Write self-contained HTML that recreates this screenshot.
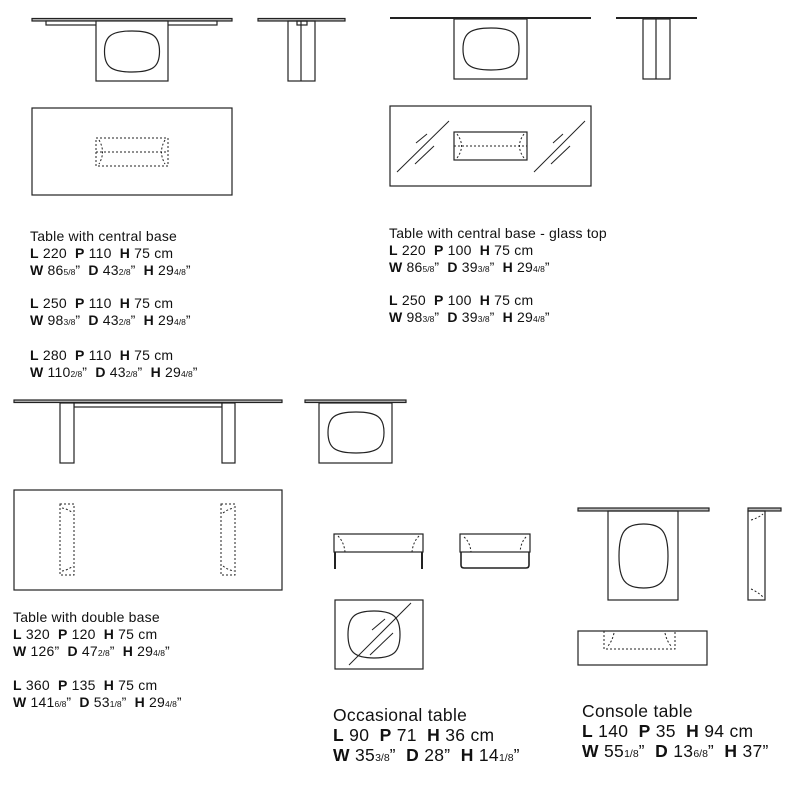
<!DOCTYPE html>
<html><head><meta charset="utf-8"><style>
html,body{margin:0;padding:0;background:#fff}
svg{display:block}
text{font-family:"Liberation Sans",sans-serif;fill:#111;white-space:pre}
.t{font-size:14px;letter-spacing:0.2px}
.b{font-weight:bold}
.f{font-size:8.5px;letter-spacing:0}
.L{font-size:17.5px;letter-spacing:0.3px}
.fl{font-size:10.5px;letter-spacing:0}
</style></head><body>
<svg width="800" height="800" viewBox="0 0 800 800" fill="none" stroke="#222" stroke-width="1.2" xml:space="preserve">
<!-- Top-left elevation -->
<rect x="32" y="18.5" width="200" height="2.5" fill="#bbb"/>
<rect x="46" y="21" width="171" height="4" fill="#fff"/>
<rect x="96" y="21" width="72" height="60" fill="#fff"/>
<path d="M104.5 51.5 C104.5 36.1 111.4 31 132 31 C152.6 31 159.5 36.1 159.5 51.5 C159.5 66.9 152.6 72 132 72 C111.4 72 104.5 66.9 104.5 51.5Z"/>
<rect x="258" y="18.5" width="87" height="2.5" fill="#bbb"/>
<rect x="288" y="21" width="27" height="60"/>
<line x1="301" y1="21" x2="301" y2="81"/>
<rect x="297" y="21" width="10" height="4"/>
<!-- Top-left plan -->
<rect x="32" y="108" width="200" height="87"/>
<g stroke-dasharray="2 2" stroke-width="1">
<rect x="96" y="138" width="72" height="28"/>
<line x1="96" y1="152" x2="168" y2="152"/>
<path d="M99 140 Q106 152 99 164 M165 140 Q158 152 165 164"/>
</g>
<!-- Top-right elevation -->
<line x1="390" y1="18" x2="591" y2="18" stroke-width="2"/>
<rect x="454" y="19" width="73" height="60"/>
<path d="M463 49 C463 33.25 470 28 491 28 C512 28 519 33.25 519 49 C519 64.75 512 70 491 70 C470 70 463 64.75 463 49Z"/>
<line x1="616" y1="18" x2="697" y2="18" stroke-width="2"/>
<rect x="643" y="19" width="27" height="60"/>
<line x1="656" y1="19" x2="656" y2="79"/>
<!-- Top-right plan -->
<rect x="390" y="106" width="201" height="80"/>
<rect x="454" y="132" width="73" height="28"/>
<g stroke-dasharray="2 2" stroke-width="1">
<line x1="454" y1="146" x2="527" y2="146"/>
<path d="M457 134 Q466 146 457 158 M524 134 Q515 146 524 158"/>
</g>
<g stroke-width="1">
<line x1="397" y1="172" x2="449" y2="121"/><line x1="416" y1="143" x2="427" y2="134"/><line x1="415" y1="164" x2="434" y2="146"/>
<line x1="534" y1="172" x2="585" y2="121"/><line x1="553" y1="143" x2="563" y2="134"/><line x1="551" y1="164" x2="570" y2="146"/>
</g>
<!-- Double base elevation -->
<rect x="14" y="400" width="268" height="2.5" fill="#bbb"/>
<rect x="74" y="403" width="148" height="4"/>
<rect x="60" y="403" width="14" height="60" fill="#fff"/>
<rect x="222" y="403" width="13" height="60" fill="#fff"/>
<rect x="305" y="400" width="101" height="2.5" fill="#bbb"/>
<rect x="319" y="403" width="73" height="60"/>
<path d="M328 432.5 C328 417.1 335 412 356 412 C377 412 384 417.1 384 432.5 C384 447.9 377 453 356 453 C335 453 328 447.9 328 432.5Z"/>
<!-- Double base plan -->
<rect x="14" y="490" width="268" height="100"/>
<g stroke-dasharray="2 2" stroke-width="1">
<rect x="60" y="504" width="14" height="71"/>
<path d="M62 508 Q68 509 73 513 M62 571 Q68 570 73 566"/>
<rect x="221" y="504" width="14" height="71"/>
<path d="M223 513 Q228 509 234 508 M223 566 Q228 570 234 571"/>
</g>
<!-- Occasional front -->
<rect x="334" y="534" width="89" height="18"/>
<line x1="335" y1="552" x2="335" y2="569" stroke-width="2"/>
<line x1="422" y1="552" x2="422" y2="569" stroke-width="2"/>
<g stroke-dasharray="2 2" stroke-width="1"><path d="M338 536 Q344 542 345 552 M419 536 Q413 542 412 552"/></g>
<rect x="460" y="534" width="70" height="18"/>
<path d="M461 552 L461 565 Q461 568 464 568 L526 568 Q529 568 529 565 L529 552" stroke-width="1.6"/>
<g stroke-dasharray="2 2" stroke-width="1"><path d="M464 537 Q470 542 471 552 M526 537 Q521 542 520 552"/></g>
<!-- Occasional plan -->
<rect x="335" y="600" width="88" height="69"/>
<path d="M348 634.5 C348 616.9 354.5 611 374 611 C393.5 611 400 616.9 400 634.5 C400 652.1 393.5 658 374 658 C354.5 658 348 652.1 348 634.5Z"/>
<g stroke-width="1">
<line x1="349" y1="665" x2="411" y2="603"/><line x1="372" y1="630" x2="385" y2="619"/><line x1="370" y1="655" x2="393" y2="633"/>
</g>
<!-- Console -->
<rect x="578" y="508" width="131" height="3" fill="#bbb"/>
<rect x="608" y="511" width="70" height="89"/>
<path d="M619 556 C619 532 625.1 524 643.5 524 C661.9 524 668 532 668 556 C668 580 661.9 588 643.5 588 C625.1 588 619 580 619 556Z"/>
<rect x="748" y="508" width="33" height="3" fill="#bbb"/>
<rect x="748" y="511" width="17" height="89"/>
<g stroke-dasharray="2 2" stroke-width="1"><path d="M751 520 Q758 518 763 514 M751 589 Q758 592 763 597"/></g>
<rect x="578" y="631" width="129" height="34"/>
<g stroke-dasharray="2 2" stroke-width="1">
<path d="M604 631 L604 649 L675 649 L675 631"/>
<path d="M614 633 Q612 642 607 647 M665 633 Q667 642 672 647"/>
</g>
<g stroke="none">
<text class="t" x="30" y="241">Table with central base</text>
<text class="t" x="30" y="258"><tspan class="b">L</tspan> 220  <tspan class="b">P</tspan> 110  <tspan class="b">H</tspan> 75 cm</text>
<text class="t" x="30" y="275"><tspan class="b">W</tspan> 86<tspan class="f">5/8</tspan>”  <tspan class="b">D</tspan> 43<tspan class="f">2/8</tspan>”  <tspan class="b">H</tspan> 29<tspan class="f">4/8</tspan>”</text>
<text class="t" x="30" y="308"><tspan class="b">L</tspan> 250  <tspan class="b">P</tspan> 110  <tspan class="b">H</tspan> 75 cm</text>
<text class="t" x="30" y="325"><tspan class="b">W</tspan> 98<tspan class="f">3/8</tspan>”  <tspan class="b">D</tspan> 43<tspan class="f">2/8</tspan>”  <tspan class="b">H</tspan> 29<tspan class="f">4/8</tspan>”</text>
<text class="t" x="30" y="360"><tspan class="b">L</tspan> 280  <tspan class="b">P</tspan> 110  <tspan class="b">H</tspan> 75 cm</text>
<text class="t" x="30" y="377"><tspan class="b">W</tspan> 110<tspan class="f">2/8</tspan>”  <tspan class="b">D</tspan> 43<tspan class="f">2/8</tspan>”  <tspan class="b">H</tspan> 29<tspan class="f">4/8</tspan>”</text>

<text class="t" x="389" y="238">Table with central base - glass top</text>
<text class="t" x="389" y="255"><tspan class="b">L</tspan> 220  <tspan class="b">P</tspan> 100  <tspan class="b">H</tspan> 75 cm</text>
<text class="t" x="389" y="272"><tspan class="b">W</tspan> 86<tspan class="f">5/8</tspan>”  <tspan class="b">D</tspan> 39<tspan class="f">3/8</tspan>”  <tspan class="b">H</tspan> 29<tspan class="f">4/8</tspan>”</text>
<text class="t" x="389" y="305"><tspan class="b">L</tspan> 250  <tspan class="b">P</tspan> 100  <tspan class="b">H</tspan> 75 cm</text>
<text class="t" x="389" y="322"><tspan class="b">W</tspan> 98<tspan class="f">3/8</tspan>”  <tspan class="b">D</tspan> 39<tspan class="f">3/8</tspan>”  <tspan class="b">H</tspan> 29<tspan class="f">4/8</tspan>”</text>

<text class="t" x="13" y="622">Table with double base</text>
<text class="t" x="13" y="639"><tspan class="b">L</tspan> 320  <tspan class="b">P</tspan> 120  <tspan class="b">H</tspan> 75 cm</text>
<text class="t" x="13" y="656"><tspan class="b">W</tspan> 126”  <tspan class="b">D</tspan> 47<tspan class="f">2/8</tspan>”  <tspan class="b">H</tspan> 29<tspan class="f">4/8</tspan>”</text>
<text class="t" x="13" y="690"><tspan class="b">L</tspan> 360  <tspan class="b">P</tspan> 135  <tspan class="b">H</tspan> 75 cm</text>
<text class="t" x="13" y="707"><tspan class="b">W</tspan> 141<tspan class="f">6/8</tspan>”  <tspan class="b">D</tspan> 53<tspan class="f">1/8</tspan>”  <tspan class="b">H</tspan> 29<tspan class="f">4/8</tspan>”</text>

<text class="L" x="333" y="721">Occasional table</text>
<text class="L" x="333" y="741"><tspan class="b">L</tspan> 90  <tspan class="b">P</tspan> 71  <tspan class="b">H</tspan> 36 cm</text>
<text class="L" x="333" y="761"><tspan class="b">W</tspan> 35<tspan class="fl">3/8</tspan>”  <tspan class="b">D</tspan> 28”  <tspan class="b">H</tspan> 14<tspan class="fl">1/8</tspan>”</text>

<text class="L" x="582" y="717">Console table</text>
<text class="L" x="582" y="737"><tspan class="b">L</tspan> 140  <tspan class="b">P</tspan> 35  <tspan class="b">H</tspan> 94 cm</text>
<text class="L" x="582" y="757"><tspan class="b">W</tspan> 55<tspan class="fl">1/8</tspan>”  <tspan class="b">D</tspan> 13<tspan class="fl">6/8</tspan>”  <tspan class="b">H</tspan> 37”</text>
</g>
</svg>
</body></html>
